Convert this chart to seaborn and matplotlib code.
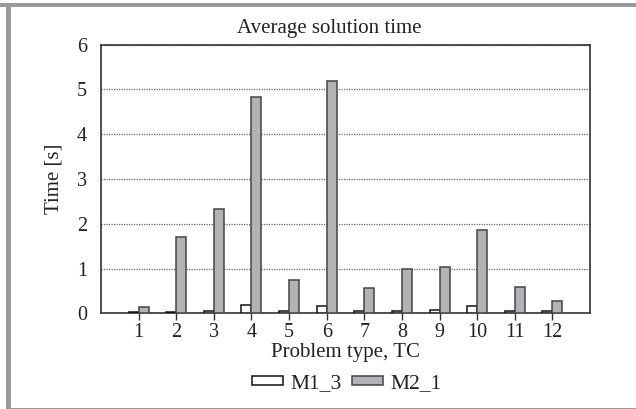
import matplotlib
matplotlib.use("Agg")
import matplotlib.pyplot as plt
import matplotlib.patches as mpatches
import seaborn as sns
import pandas as pd

categories = ["1", "2", "3", "4", "5", "6", "7", "8", "9", "10", "11", "12"]
m1_3 = [0.02, 0.04, 0.06, 0.19, 0.05, 0.16, 0.06, 0.06, 0.07, 0.16, 0.06, 0.06]
m2_1 = [0.13, 1.70, 2.32, 4.84, 0.74, 5.20, 0.57, 0.98, 1.04, 1.85, 0.58, 0.28]
series_names = ["M1_3", "M2_1"]

df = pd.DataFrame({
    "cat": categories * 2,
    "val": m1_3 + m2_1,
    "series": [series_names[0]] * len(categories) + [series_names[1]] * len(categories),
})

sns.set_theme(style="white")
plt.rcParams["font.family"] = ["Liberation Serif", "DejaVu Serif"]

fig = plt.figure(figsize=(6.36, 4.09), dpi=100)
ax = fig.add_axes([101/636, 1 - 313.3/409, (590-101)/636, (313.3-44.7)/409])

fills = {"M1_3": "#ffffff", "M2_1": "#b3b3b6"}
edges = {"M1_3": "#111111", "M2_1": "#444444"}

sns.barplot(data=df, x="cat", y="val", hue="series", order=categories,
            hue_order=series_names, palette=fills, width=0.53, saturation=1,
            linewidth=1.1, edgecolor="#222222", ax=ax, legend=False, zorder=3)

for cont, name in zip(ax.containers, series_names):
    for p in cont:
        p.set_edgecolor(edges[name])

ax.set_xlim(-1, 12)
ax.set_ylim(0, 6)
ax.set_yticks([0, 1, 2, 3, 4, 5, 6])
ax.yaxis.grid(True, linestyle=(0, (1, 1)), color="#666666", linewidth=0.9, zorder=0)
ax.set_axisbelow(True)
for s in ax.spines.values():
    s.set_color("#333333")
    s.set_linewidth(1.2)
    s.set_visible(True)

ax.tick_params(axis="x", bottom=True, length=5, width=1, color="#333333",
               labelsize=14.5, pad=2, labelcolor="#222222")
ax.tick_params(axis="y", left=False, length=0, labelsize=14.5, pad=10, labelcolor="#222222")
ax.set_xlabel("Problem type, TC", fontsize=15, color="#222222", labelpad=1)
ax.set_ylabel("Time [s]", fontsize=15, color="#222222", labelpad=10)

fig.text(329/636, 1 - 28/409, "Average solution time", ha="center", va="center",
         fontsize=15, color="#222222")

handles = [mpatches.Patch(facecolor=fills[n], edgecolor=edges[n], linewidth=1.1, label=n)
           for n in series_names]
fig.legend(handles=handles, loc="center", bbox_to_anchor=(347/636, 1 - 384/409),
           ncol=2, frameon=False, fontsize=15.5, handlelength=1.45, handleheight=0.3,
           columnspacing=0.45, handletextpad=0.35, labelcolor="#222222")

# outer gray frame
gray = "#9a9a9a"
fig.patches.append(mpatches.Rectangle((0, 1 - 7/409), 1, 4/409, transform=fig.transFigure,
                                      facecolor=gray, edgecolor="none"))
fig.patches.append(mpatches.Rectangle((6/636, 1 - 408/409), 5/636, 401/409, transform=fig.transFigure,
                                      facecolor=gray, edgecolor="none"))
fig.patches.append(mpatches.Rectangle((6/636, 0), 1, 1.5/409, transform=fig.transFigure,
                                      facecolor=gray, edgecolor="none"))

fig.savefig("out.png", dpi=100)
